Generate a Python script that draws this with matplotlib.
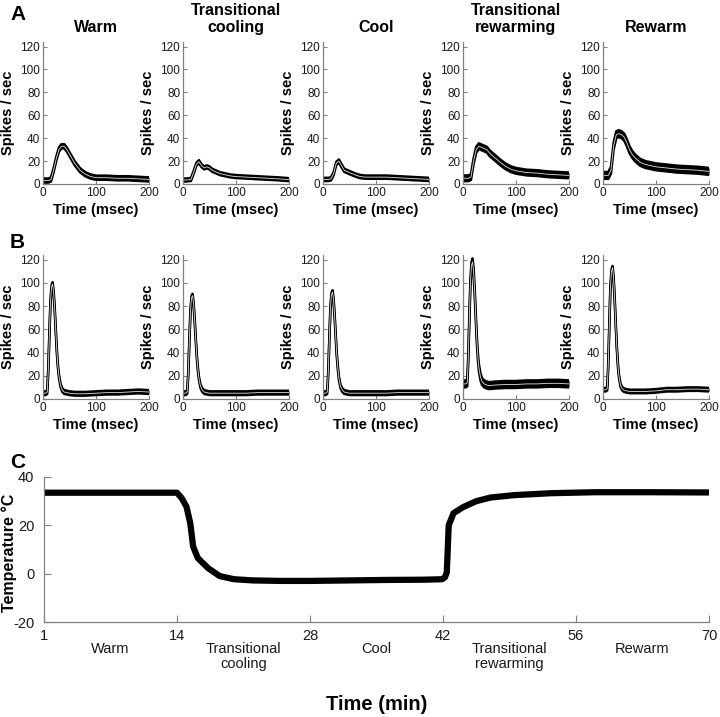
import matplotlib

matplotlib.use("Agg")
import matplotlib.pyplot as plt
import matplotlib.transforms as mtransforms
import numpy as np

plt.rcParams["font.family"] = ["Liberation Sans", "DejaVu Sans"]
plt.rcParams["axes.unicode_minus"] = False

SPINE_COLOR = "#808080"
TEXT_COLOR = "#1a1a1a"

# condition names, shared by rows A, B and the phases of C
conditions = ["Warm", "Transitional\ncooling", "Cool", "Transitional\nrewarming", "Rewarm"]

# row A: population PSTH, time bins in msec
t_a = [0, 5, 10, 15, 20, 25, 30, 35, 40, 45, 50, 55, 60, 70, 80, 90, 100, 120, 140, 160, 180, 200]
a_warm = [3, 3, 3, 4, 12, 22, 30, 33, 33, 30, 26, 22, 18, 12, 8.5, 6.5, 5.5, 5.5, 5, 5, 4.5, 4]
a_trans_cool = [3.5, 3.5, 3.6, 4, 10, 17, 19.5, 16, 14, 15, 14, 12, 11, 9, 8, 7, 6.5, 6, 5.5, 5, 4.5, 3.8]
a_cool = [4, 4, 4, 4.5, 9, 18, 20, 16, 12, 11, 10, 9, 8, 6.5, 6, 6, 6, 6, 5.5, 5, 4.5, 4]
a_trans_rewarm = [5, 5, 5, 6, 20, 30, 33, 32, 31, 30, 27, 25, 23, 19, 15.5, 13, 11.5, 10, 9.5, 8.5, 8, 7.5]
a_rewarm = [7.5, 7.5, 7.5, 12, 33, 43, 44, 43, 41, 36, 30, 26, 23, 19, 17, 16, 15, 14, 13, 12.5, 12, 11]
sem_a = [1.8, 1.3, 1.4, 2.5, 3.0]

# row B: single unit PSTH
t_b = [0, 5, 8, 10, 12, 14, 16, 18, 20, 22, 24, 26, 28, 30, 33, 36, 40, 45, 50, 60, 80, 100, 120, 140, 160, 180, 200]
b_warm = [5, 5, 6, 25, 55, 82, 96, 99, 92, 78, 60, 42, 29, 20, 12, 8, 6, 5.5, 5, 4.5, 4.5, 5, 5.5, 5.5, 6, 6.5, 6]
b_trans_cool = [5, 5, 6, 22, 50, 75, 87, 89, 82, 68, 52, 37, 26, 18, 11, 8, 6, 5.5, 5, 5, 5, 5, 5, 5.5, 5.5, 5.5, 5.5]
b_cool = [5, 5, 6, 23, 52, 78, 90, 92, 85, 71, 54, 38, 27, 18, 11, 8, 6, 5.5, 5, 5, 5, 5, 5, 5.5, 5.5, 5.5, 5.5]
b_trans_rewarm = [13, 13, 14, 35, 70, 100, 115, 118, 110, 93, 72, 52, 37, 27, 19, 15, 13, 12, 11.5, 12, 12.5, 12.5, 13, 13, 13.5, 13.5, 13]
b_rewarm = [8, 8, 9, 30, 65, 96, 110, 113, 104, 86, 65, 45, 30, 20, 12, 9, 7.5, 7, 6.5, 6.5, 6.5, 7, 8, 8, 8.5, 8.5, 8]
sem_b = [1.6, 1.6, 1.6, 3.0, 1.5]

# panel C: bath temperature over the recording, minutes
t_min = [0, 14, 14.5, 15, 15.4, 15.7, 16.2, 17.3, 18.5, 20, 22, 25, 28, 32, 36, 40, 41.9,
         42.2, 42.4, 42.6, 43.1, 44.1, 45.5, 47.0, 49.5, 53.4, 58, 64, 70]
temp_c = [33.5, 33.5, 31.2, 27.7, 20.8, 11.2, 6.4, 2.2, -1.0, -2.3, -2.8, -3.0, -3.0, -2.8, -2.6, -2.5, -2.3,
          -1.5, 0.5, 20, 25, 27.5, 30, 31.5, 32.5, 33.3, 33.7, 33.7, 33.6]
c_ticks = [0, 14, 28, 42, 56, 70]
c_tick_labels = ["1", "14", "28", "42", "56", "70"]
phase_labels = ["Warm", "Transitional\ncooling", "Cool", "Transitional\nrewarming", "Rewarm"]

row_a = [a_warm, a_trans_cool, a_cool, a_trans_rewarm, a_rewarm]
row_b = [b_warm, b_trans_cool, b_cool, b_trans_rewarm, b_rewarm]


def style_axes(ax, tick_size):
    for side in ("top", "right"):
        ax.spines[side].set_visible(False)
    for side in ("left", "bottom"):
        ax.spines[side].set_color(SPINE_COLOR)
        ax.spines[side].set_linewidth(0.9)
    ax.tick_params(direction="in", color=SPINE_COLOR, labelcolor=TEXT_COLOR,
                   labelsize=tick_size, length=3, width=0.8, pad=2)


def draw_psth(ax, t, mean, sem):
    mean = np.asarray(mean, dtype=float)
    hi = mean + sem
    lo = mean - sem
    ax.fill_between(t, lo, hi, color="black", lw=0)
    ax.plot(t, hi, color="black", lw=1.8)
    ax.plot(t, lo, color="black", lw=1.8)
    ax.plot(t, mean, color="#e0e0e0", lw=0.6)

    ax.set_xlim(0, 200)
    ax.set_ylim(0, 124)
    ax.set_xticks([0, 100, 200])
    ax.set_yticks(range(0, 121, 20))
    style_axes(ax, 8.5)
    ax.set_xlabel("Time (msec)", fontsize=10.5, fontweight="bold", labelpad=3)
    ax.set_ylabel("Spikes / sec", fontsize=10.5, fontweight="bold")
    ax.yaxis.set_label_coords(-0.26, 0.5)


W, H = 720, 717
fig = plt.figure(figsize=(W / 100, H / 100), dpi=100)

lefts = [43, 183, 323, 463, 603]
for i, left in enumerate(lefts):
    ax = fig.add_axes([left / W, 1 - 184 / H, 106 / W, 142 / H])
    draw_psth(ax, t_a, row_a[i], sem_a[i])
    ax.set_title(conditions[i], fontsize=11.5, fontweight="bold", pad=7)

    ax = fig.add_axes([left / W, 1 - 399 / H, 106 / W, 144 / H])
    draw_psth(ax, t_b, row_b[i], sem_b[i])

# panel C
ax = fig.add_axes([44 / W, 1 - 622 / H, 665 / W, 145 / H])
ax.plot(t_min, temp_c, color="black", lw=4.5, solid_capstyle="butt")
ax.set_xlim(0, 70)
ax.set_ylim(-20, 40)
ax.set_xticks(c_ticks)
ax.set_xticklabels(c_tick_labels)
ax.set_yticks([-20, 0, 20, 40])
style_axes(ax, 10.5)
ax.tick_params(length=5)
ax.tick_params(axis="y", pad=7)
ax.tick_params(axis="x", pad=5)
ax.set_ylabel("Temperature °C", fontsize=11.5, fontweight="bold")
ax.yaxis.set_label_coords(-0.041, 0.48)
ax.set_xlabel("Time (min)", fontsize=14.5, fontweight="bold")
ax.xaxis.set_label_coords(0.5, -0.5)

mids = (np.array(c_ticks[:-1]) + np.array(c_ticks[1:])) / 2
trans = mtransforms.blended_transform_factory(ax.transData, ax.transAxes)
for x, label in zip(mids, phase_labels):
    ax.text(x, -0.135, label, transform=trans, ha="center", va="top",
            fontsize=10.5, color=TEXT_COLOR, linespacing=1.15)

for letter, y in (("A", 15), ("B", 243), ("C", 462)):
    fig.text(10 / W, 1 - y / H, letter, fontsize=15, fontweight="bold", va="center", ha="left")

fig.savefig("out.png", dpi=100)
